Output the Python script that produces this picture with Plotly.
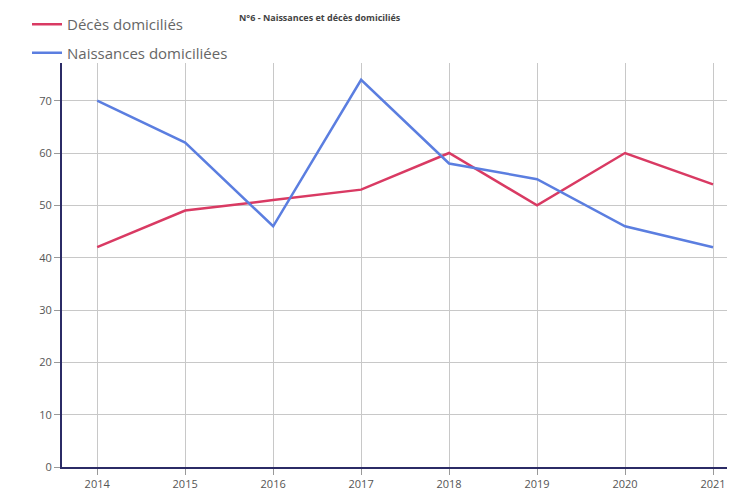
import plotly.graph_objects as go

years = [2014, 2015, 2016, 2017, 2018, 2019, 2020, 2021]
deces = [42, 49, 51, 53, 60, 50, 60, 54]
naissances = [70, 62, 46, 74, 58, 55, 46, 42]

fig = go.Figure()

fig.add_trace(go.Scatter(
    x=years, y=deces, mode="lines", name="Décès domiciliés",
    line=dict(color="#d93a63", width=2.5), legendgroup="a"
))
fig.add_trace(go.Scatter(
    x=years, y=naissances, mode="lines", name="Naissances domiciliées",
    line=dict(color="#5b7ee0", width=2.5), legendgroup="b"
))

# titre (à peine visible en haut dans l'original)
fig.add_annotation(
    text="<b>N°6 - Naissances et décès domiciliés</b>",
    xref="paper", yref="paper", x=0.26, y=1.1333, xanchor="left", yanchor="top",
    showarrow=False, font=dict(size=9, color="#444")
)

fig.update_xaxes(
    range=[2013.6, 2021.25], tickvals=years, ticks="outside", ticklen=6,
    tickcolor="#999", showgrid=True, gridcolor="#c8c8c8", gridwidth=1,
    showline=True, linecolor="#2b2b66", linewidth=2,
    tickfont=dict(size=11, color="#555"), zeroline=False
)
fig.update_yaxes(
    range=[0, 77.2], tickvals=[0, 10, 20, 30, 40, 50, 60, 70], ticks="outside",
    ticklen=6, tickcolor="#999", showgrid=True, gridcolor="#c8c8c8", gridwidth=1,
    showline=True, linecolor="#2b2b66", linewidth=2,
    tickfont=dict(size=11, color="#555"), zeroline=False
)

fig.update_layout(
    width=727, height=494,
    margin=dict(l=54, r=0, t=54, b=35),
    plot_bgcolor="white", paper_bgcolor="white",
    font=dict(family="Open Sans", color="#555"),
    legend=dict(x=-0.052, y=1.137, xanchor="left", yanchor="top",
                font=dict(size=15, color="#666"), tracegroupgap=6,
                traceorder="grouped", bgcolor="rgba(0,0,0,0)"),
    showlegend=True
)

fig.write_html("out.html")
